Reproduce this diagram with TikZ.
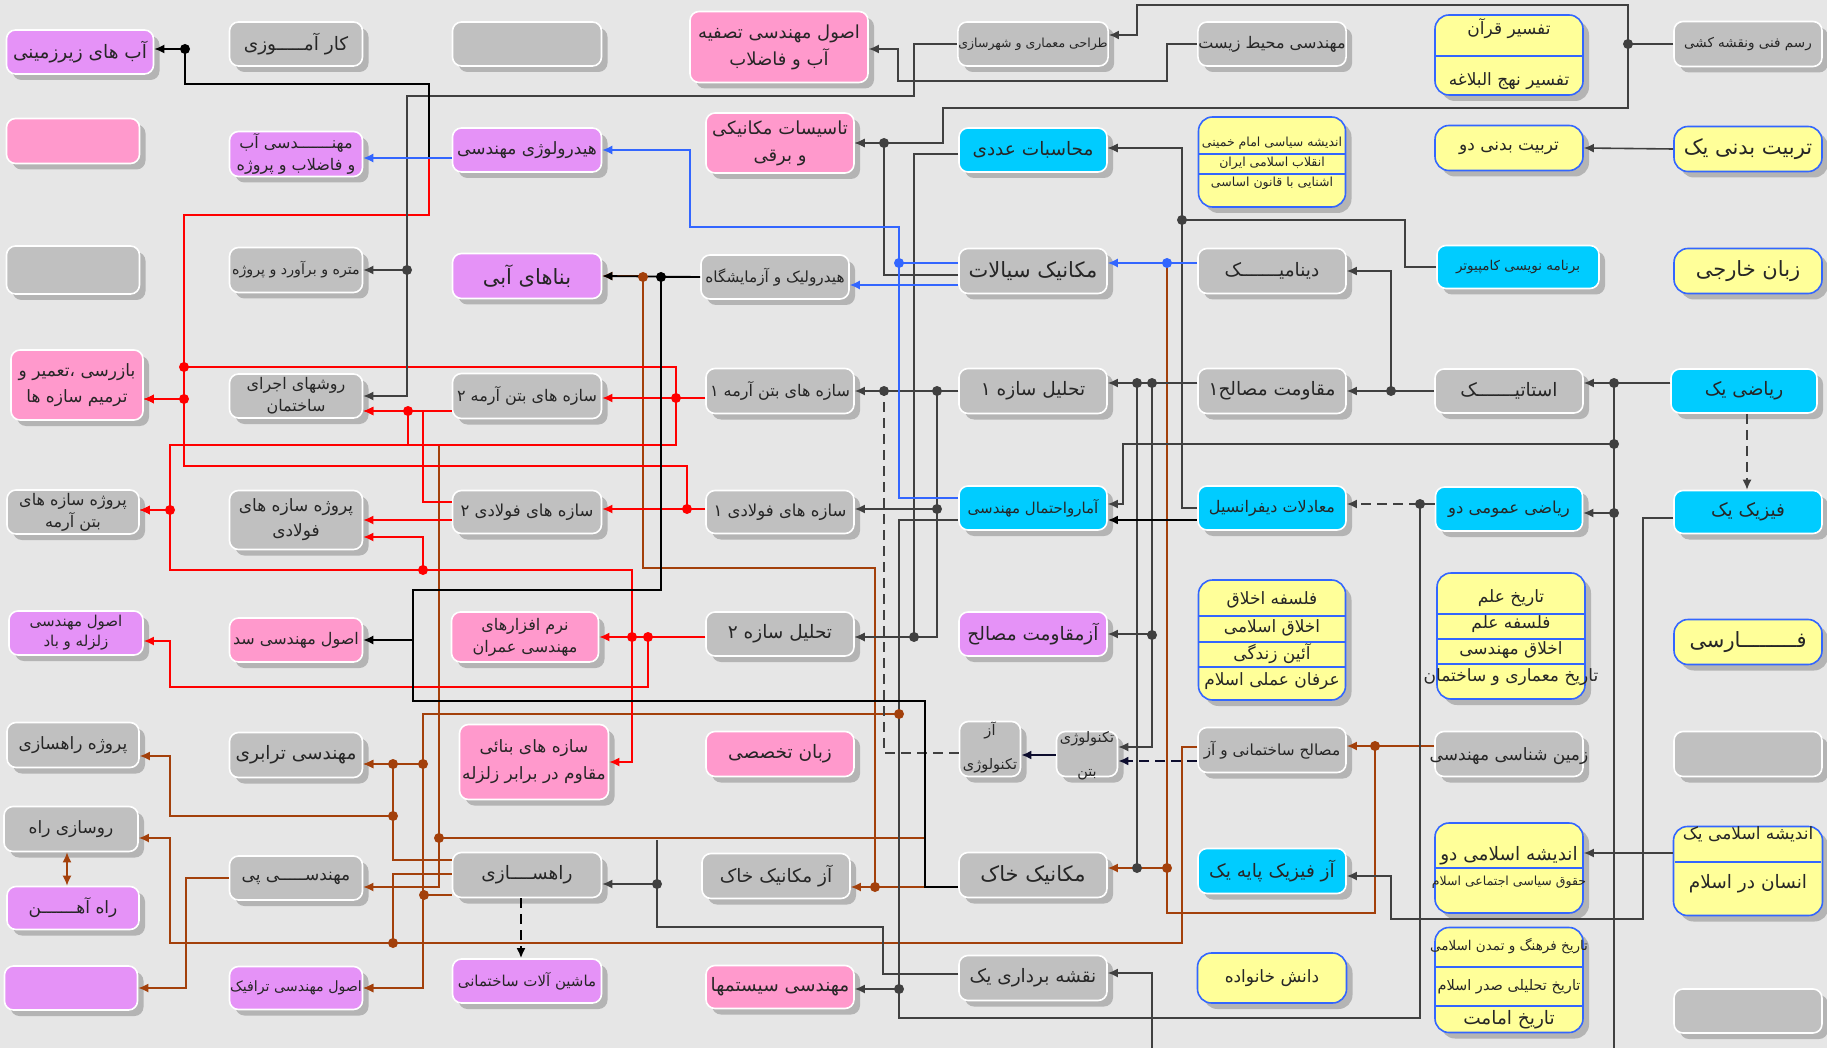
\documentclass[tikz,border=0pt]{standalone}
\usepackage{fontspec}
\usepackage{tikz}
\usetikzlibrary{shapes,arrows,arrows.meta,shadows}
\usepackage{xcolor}
\newfontfamily\arabicfont[Script=Arabic]{DejaVu Sans}
\TeXXeTstate=1
\newcommand{\fatxt}[1]{\beginR #1\endR}
\newcommand{\fbig}{\arabicfont\fontsize{21}{25}\selectfont}
\newcommand{\flrg}{\arabicfont\fontsize{18.5}{23}\selectfont}
\newcommand{\fmid}{\arabicfont\fontsize{17}{22}\selectfont}
\newcommand{\fnrm}{\arabicfont\fontsize{16.5}{22}\selectfont}
\newcommand{\ftwo}{\arabicfont\fontsize{16}{22}\selectfont}
\newcommand{\fsml}{\arabicfont\fontsize{15}{20}\selectfont}
\newcommand{\ftny}{\arabicfont\fontsize{12.5}{16}\selectfont}
\definecolor{bgc}{HTML}{E6E6E6}
\definecolor{boxgray}{HTML}{C0C0C0}
\definecolor{boxcyan}{HTML}{00CCFF}
\definecolor{boxpurple}{HTML}{E592F7}
\definecolor{boxpink}{HTML}{FF99CC}
\definecolor{boxyellow}{HTML}{FFFF99}
\definecolor{ybord}{HTML}{3366FF}
\definecolor{shd}{HTML}{B4B4B4}
\definecolor{lnk}{HTML}{404040}
\definecolor{brn}{HTML}{A3400B}
\definecolor{navyl}{HTML}{0D0D2E}

\begin{document}
\begin{tikzpicture}[x=1pt,y=-1pt,>={Latex[length=10pt,width=9pt]}]
      \tikzstyle{course} = [rectangle, rounded corners=9pt, draw=white, line width=1.6pt, minimum width=148pt, minimum height=45pt, inner sep=0.5pt, align=center, text=black!85, font=\fmid, drop shadow={shadow xshift=6pt, shadow yshift=-6pt, fill=shd, opacity=1}]
      \tikzstyle{gcourse} = [course, fill=boxgray]
      \tikzstyle{ccourse} = [course, fill=boxcyan]
      \tikzstyle{pcourse} = [course, fill=boxpurple]
      \tikzstyle{kcourse} = [course, fill=boxpink]
      \tikzstyle{ycourse} = [course, fill=boxyellow, draw=ybord, rounded corners=14pt]
      \tikzstyle{txt} = [inner sep=0pt, align=center, text=black!85, font=\fmid]
      \tikzstyle{gline} = [draw=lnk, line width=1.6pt]
      \tikzstyle{rline} = [draw=red, line width=1.6pt]
      \tikzstyle{bline} = [draw=ybord, line width=1.4pt]
      \tikzstyle{wline} = [draw=brn, line width=1.6pt]
      \tikzstyle{dsh} = [dash pattern=on 10pt off 6pt]

      \useasboundingbox (0,0) rectangle (1827,1048);
      \fill[bgc] (0,0) rectangle (1827,1048);

      \node[pcourse, font=\flrg, minimum width=147pt, minimum height=44pt] (gwater) at (80,52) {\fatxt{آب های زیرزمینی}};
      \node[kcourse, minimum width=133pt] (emptyA) at (73,141) {};
      \node[gcourse, minimum width=133pt, minimum height=48pt] (emptyB) at (73,270) {};
      \node[kcourse, minimum width=132pt, minimum height=70pt, font=\arabicfont\fontsize{17}{26}\selectfont] (inspect) at (77,385) {\fatxt{بازرسی ،تعمیر و}\\\fatxt{ترمیم سازه ها}};
      \node[gcourse, minimum width=132pt, minimum height=44pt, font=\ftwo] (rcproj) at (73,512) {\fatxt{پروژه سازه های}\\\fatxt{بتن آرمه}};
      \node[pcourse, minimum width=134pt, minimum height=44pt, font=\fsml] (quake) at (76,633) {\fatxt{اصول مهندسی}\\\fatxt{زلزله و باد}};
      \node[gcourse, minimum width=132pt] (roadproj) at (73,745) {\fatxt{پروژه راهسازی}};
      \node[gcourse, minimum width=134pt] (pave) at (71,829) {\fatxt{روسازی راه}};
      \node[pcourse, minimum width=132pt, minimum height=43pt] (rail) at (73,908) {\fatxt{راه آهـــــــن}};
      \node[pcourse, minimum width=133pt, minimum height=44pt] (emptyC) at (71,988) {};

      \node[gcourse, minimum width=133pt, minimum height=44pt, font=\flrg] (intern) at (296,44) {\fatxt{کار آمـــــوزی}};
      \node[pcourse, minimum width=133pt, font=\ftwo] (waterproj) at (296,154) {\fatxt{مهنـــــــدسی آب}\\\fatxt{و فاضلاب و پروژه}};
      \node[gcourse, minimum width=133pt, font=\arabicfont\fontsize{14.2}{18}\selectfont] (qty) at (296,270) {\fatxt{متره و برآورد و پروژه}};
      \node[gcourse, minimum width=133pt, minimum height=44pt, font=\ftwo] (constr) at (296,396) {\fatxt{روشهای اجرای}\\\fatxt{ساختمان}};
      \node[gcourse, minimum width=133pt, minimum height=59pt, font=\arabicfont\fontsize{17}{25}\selectfont] (steelproj) at (296,520) {\fatxt{پروژه سازه های}\\\fatxt{فولادی}};
      \node[kcourse, minimum width=133pt, minimum height=44pt, font=\ftwo] (dam) at (296,640) {\fatxt{اصول مهندسی سد}};
      \node[gcourse, minimum width=133pt, font=\flrg] (transp) at (296,755) {\fatxt{مهندسی ترابری}};
      \node[gcourse, minimum width=133pt, minimum height=44pt] (found) at (296,878) {\fatxt{مهندســـــی پی}};
      \node[pcourse, minimum width=133pt, minimum height=43pt, font=\arabicfont\fontsize{14.2}{18}\selectfont] (traffic) at (296,988) {\fatxt{اصول مهندسی ترافیک}};

      \node[gcourse, minimum width=149pt, minimum height=44pt] (emptyD) at (527,44) {};
      \node[pcourse, minimum width=149pt, minimum height=44pt] (hydro) at (527,150) {\fatxt{هیدرولوژی مهندسی}};
      \node[pcourse, minimum width=149pt, font=\fbig] (hstruct) at (527,276) {\fatxt{بناهای آبی}};
      \node[gcourse, minimum width=149pt, font=\ftwo] (rc2) at (527,396) {\fatxt{سازه های بتن آرمه ۲}};
      \node[gcourse, minimum width=149pt, minimum height=43pt, font=\fnrm] (steel2) at (527,512) {\fatxt{سازه های فولادی ۲}};
      \node[kcourse, minimum width=147pt, minimum height=50pt, font=\ftwo] (soft) at (525,637) {\fatxt{نرم افزارهای}\\\fatxt{مهندسی عمران}};
      \node[kcourse, minimum width=149pt, minimum height=75pt, font=\arabicfont\fontsize{17}{27}\selectfont] (masonry) at (534,762) {\fatxt{سازه های بنائی}\\\fatxt{مقاوم در برابر زلزله}};
      \node[gcourse, minimum width=149pt, font=\flrg] (road) at (527,875) {\fatxt{راهســــازی}};
      \node[pcourse, minimum width=149pt, minimum height=44pt, font=\fsml] (machine) at (527,981) {\fatxt{ماشین آلات ساختمانی}};

      \node[kcourse, minimum width=178pt, minimum height=71pt, font=\arabicfont\fontsize{18}{27}\selectfont] (treat) at (779,47) {\fatxt{اصول مهندسی تصفیه}\\\fatxt{آب و فاضلاب}};
      \node[kcourse, minimum height=60pt, font=\arabicfont\fontsize{18}{27}\selectfont] (mech) at (780,143) {\fatxt{تاسیسات مکانیکی}\\\fatxt{و برقی}};
      \node[gcourse, minimum height=44pt, font=\arabicfont\fontsize{15.3}{20}\selectfont] (hlab) at (775,277) {\fatxt{هیدرولیک و آزمایشگاه}};
      \node[gcourse, font=\ftwo] (rc1) at (780,391) {\fatxt{سازه های بتن آرمه ۱}};
      \node[gcourse, minimum height=43pt, font=\fnrm] (steel1) at (780,512) {\fatxt{سازه های فولادی ۱}};
      \node[gcourse, minimum height=44pt, font=\flrg] (anal2) at (780,634) {\fatxt{تحلیل سازه ۲}};
      \node[kcourse, font=\flrg] (esp) at (780,754) {\fatxt{زبان تخصصی}};
      \node[gcourse, font=\flrg] (soillab) at (776,876) {\fatxt{آز مکانیک خاک}};
      \node[kcourse, minimum height=43pt, font=\flrg] (systems) at (780,987) {\fatxt{مهندسی سیستمها}};

      \node[gcourse, minimum height=44pt, font=\ftny] (arch) at (1033,44) {\fatxt{طراحی معماری و شهرسازی}};
      \node[ccourse, minimum height=44pt, font=\flrg] (numer) at (1033,150) {\fatxt{محاسبات عددی}};
      \node[gcourse, font=\fbig] (fluid) at (1033,271) {\fatxt{مکانیک سیالات}};
      \node[gcourse, font=\flrg] (anal1) at (1033,391) {\fatxt{تحلیل سازه ۱}};
      \node[ccourse, minimum height=44pt, font=\fsml] (stat) at (1033,508) {\fatxt{آمارواحتمال مهندسی}};
      \node[pcourse, minimum height=44pt, font=\flrg] (matlab) at (1033,634) {\fatxt{آزمقاومت مصالح}};
      \node[gcourse, minimum width=61pt, minimum height=55pt] (techlab) at (990,749) {};
      \node[gcourse, minimum width=61pt, minimum height=45pt] (concrete) at (1087,754) {};
      \node[txt, font=\arabicfont\fontsize{14.5}{34}\selectfont] (techlabT) at (990,747) {\fatxt{آز}\\\fatxt{تکنولوژی}};
      \node[txt, font=\arabicfont\fontsize{14.5}{34}\selectfont] (concreteT) at (1087,756) {\fatxt{تکنولوژی}\\\fatxt{بتن}};
      \node[gcourse, font=\fbig] (soil) at (1033,875) {\fatxt{مکانیک خاک}};
      \node[gcourse, font=\flrg] (survey) at (1033,978) {\fatxt{نقشه برداری یک}};

      \node[gcourse, minimum height=44pt, font=\ftwo] (env) at (1272,44) {\fatxt{مهندسی محیط زیست}};
      \node[ycourse, minimum width=147pt, minimum height=90pt] (yel1) at (1272,162) {};
      \node[gcourse, font=\flrg] (dyn) at (1272,271) {\fatxt{دینامیـــــــک}};
      \node[gcourse, font=\flrg] (mat1) at (1272,391) {\fatxt{مقاومت مصالح۱}};
      \node[ccourse, minimum height=44pt, font=\ftwo] (diff) at (1272,508) {\fatxt{معادلات دیفرانسیل}};
      \node[ycourse, minimum width=147pt, minimum height=120pt] (yel2) at (1272,640) {};
      \node[gcourse, font=\arabicfont\fontsize{15.3}{20}\selectfont] (matlab2) at (1272,750) {\fatxt{مصالح ساختمانی و آز}};
      \node[ccourse, font=\flrg] (physlab) at (1272,871) {\fatxt{آز فیزیک پایه یک}};
      \node[ycourse, minimum width=149pt, minimum height=50pt] (family) at (1272,978) {\fatxt{دانش خانواده}};

      \node[ycourse, minimum height=80pt] (tafsir) at (1509,55) {};
      \node[ycourse] (pe2) at (1509,148) {\fatxt{تربیت بدنی دو}};
      \node[ccourse, minimum width=162pt, minimum height=43pt, font=\arabicfont\fontsize{13.5}{16}\selectfont] (prog) at (1518,267) {\fatxt{برنامه نویسی کامپیوتر}};
      \node[gcourse, minimum height=44pt, font=\flrg] (static) at (1509,391) {\fatxt{استاتیـــــــک}};
      \node[ccourse, minimum width=147pt, minimum height=44pt, font=\fnrm] (math2) at (1509,509) {\fatxt{ریاضی عمومی دو}};
      \node[ycourse, minimum height=126pt] (yel3) at (1511,636) {};
      \node[gcourse] (geo) at (1509,754) {};
      \node[ycourse, minimum height=90pt] (yel4) at (1509,868) {};
      \node[ycourse, minimum height=105pt] (yel5) at (1509,980) {};

      \node[gcourse, font=\arabicfont\fontsize{13.5}{16}\selectfont] (draft) at (1748,44) {\fatxt{رسم فنی ونقشه کشی}};
      \node[ycourse, font=\fbig] (pe1) at (1748,149) {\fatxt{تربیت بدنی یک}};
      \node[ycourse, font=\fbig] (lang) at (1748,271) {\fatxt{زبان خارجی}};
      \node[ccourse, minimum width=146pt, minimum height=44pt, font=\flrg] (math1) at (1744,391) {\fatxt{ریاضی یک}};
      \node[ccourse, minimum height=43pt, font=\flrg] (phys1) at (1748,512) {\fatxt{فیزیک یک}};
      \node[ycourse, font=\fbig] (farsi) at (1748,642) {\fatxt{فـــــــــارسی}};
      \node[gcourse] (emptyE) at (1748,754) {};
      \node[ycourse, minimum width=149pt, minimum height=89pt] (yel6) at (1748,871) {};
      \node[gcourse, minimum height=44pt] (emptyF) at (1748,1011) {};

      \draw[ybord, line width=1.4pt] (1199,154) -- (1345,154) (1199,174) -- (1345,174);
      \draw[ybord, line width=1.4pt] (1199,616) -- (1345,616) (1199,642) -- (1345,642) (1199,667) -- (1345,667);
      \draw[ybord, line width=1.4pt] (1436,56) -- (1582,56);
      \draw[ybord, line width=1.4pt] (1438,614) -- (1584,614) (1438,639) -- (1584,639) (1438,664) -- (1584,664);
      \draw[ybord, line width=1.4pt] (1436,868) -- (1582,868);
      \draw[ybord, line width=1.4pt] (1436,967) -- (1582,967) (1436,1006) -- (1582,1006);
      \draw[ybord, line width=1.4pt] (1675,862) -- (1821,862);

      \node[txt, font=\ftny] (yel1a) at (1272,143) {\fatxt{اندیشه سیاسی امام خمینی}};
      \node[txt, font=\ftny] (yel1b) at (1272,163) {\fatxt{انقلاب اسلامی ایران}};
      \node[txt, font=\ftny] (yel1c) at (1272,183) {\fatxt{اشنایی با قانون اساسی}};
      \node[txt] (yel2a) at (1272,600) {\fatxt{فلسفه اخلاق}};
      \node[txt] (yel2b) at (1272,628) {\fatxt{اخلاق اسلامی}};
      \node[txt] (yel2c) at (1272,654) {\fatxt{آئین زندگی}};
      \node[txt] (yel2d) at (1272,681) {\fatxt{عرفان عملی اسلام}};
      \node[txt] (tafsira) at (1509,29) {\fatxt{تفسیر قرآن}};
      \node[txt] (tafsirb) at (1509,81) {\fatxt{تفسیر نهج البلاغه}};
      \node[txt] (yel3a) at (1511,598) {\fatxt{تاریخ علم}};
      \node[txt] (yel3b) at (1511,624) {\fatxt{فلسفه علم}};
      \node[txt] (yel3c) at (1511,650) {\fatxt{اخلاق مهندسی}};
      \node[txt] (yel3d) at (1511,677) {\fatxt{تاریخ معماری و ساختمان}};
      \node[txt, font=\fmid] (geoT) at (1509,756) {\fatxt{زمین شناسی مهندسی}};
      \node[txt, font=\flrg] (yel4a) at (1509,856) {\fatxt{اندیشه اسلامی دو}};
      \node[txt, font=\ftny] (yel4b) at (1509,882) {\fatxt{حقوق سیاسی اجتماعی اسلام}};
      \node[txt, font=\arabicfont\fontsize{13.5}{16}\selectfont] (yel5a) at (1509,946) {\fatxt{تاریخ فرهنگ و تمدن اسلامی}};
      \node[txt, font=\arabicfont\fontsize{14.5}{18}\selectfont] (yel5b) at (1509,987) {\fatxt{تاریخ تحلیلی صدر اسلام}};
      \node[txt, font=\flrg] (yel5c) at (1509,1020) {\fatxt{تاریخ امامت}};
      \node[txt, font=\fmid] (yel6a) at (1748,834) {\fatxt{اندیشه اسلامی یک}};
      \node[txt, font=\flrg] (yel6b) at (1748,884) {\fatxt{انسان در اسلام}};

      \coordinate (bsrc) at (899,714);
      \coordinate (bjoin) at (925,838);
      \coordinate (redtop) at (439,445);
      \coordinate (bottomA) at (1614,1048);
      \coordinate (bottomB) at (1152,1048);

      \draw[wline,->] ([yshift=-12pt]soil.west) -- ([yshift=-11pt]soillab.east);
      \draw[wline,->] ([yshift=-12pt]soil.west) -- (875,887) |- (643,568) |- (hstruct.east);
      \draw[wline,->] (bsrc) -| (423,764) |- ([yshift=-9pt]transp.east);
      \draw[wline,->] (bsrc) -| (423,988) -- (traffic.east);
      \draw[wline,->] ([yshift=-20pt]road.west) -- (423,895) |- (traffic.east);
      \draw[wline,->] ([yshift=15pt]road.west) -- (393,860) |- ([yshift=-9pt]transp.east);
      \draw[wline,->] ([yshift=15pt]road.west) -- (393,860) |- (170,816) |- ([yshift=-11pt]roadproj.east);
      \draw[wline,->] ([yshift=3pt]matlab2.west) -- (1182,747) |- (170,943) |- ([yshift=-9pt]pave.east);
      \draw[wline] ([yshift=1pt]road.west) -| (393,943);
      \draw[wline,->] (bjoin) -- (439,838) |- ([yshift=-9pt]found.east);
      \draw[wline] (redtop) -- (439,838);
      \draw[wline,->] (found.west) -- (186,878) |- (emptyC.east);
      \draw[wline,<->] ([xshift=-4pt]pave.south) -- ([xshift=-6pt]rail.north);
      \draw[wline,->] ([yshift=8pt]geo.west) -- ([yshift=4pt]matlab2.east);
      \draw[wline,->] ([yshift=8pt]geo.west) -- (1375,746) |- (1167,913) |- ([yshift=7pt]soil.east);
      \draw[wline] ([yshift=8pt]geo.west) -- (1375,746) |- (1167,913) -- (1167,263);

      \draw[rline,->] ([yshift=-8pt]hydro.west) -- (429,158) |- (184,215) |- ([yshift=-14pt]inspect.east);
      \draw[rline,->] ([yshift=-7pt]rc1.west) -- ([yshift=-2pt]rc2.east);
      \draw[rline,->] ([yshift=-7pt]rc1.west) -- (676,398) |- (184,367) |- ([yshift=-14pt]inspect.east);
      \draw[rline,->] ([yshift=-7pt]rc1.west) -- (676,398) |- (170,445) |- ([yshift=2pt]rcproj.east);
      \draw[rline,->] ([yshift=-15pt]rc2.west) -- ([yshift=-15pt]constr.east);
      \draw[rline,->] ([yshift=-15pt]rc2.west) -- (408,411) |- (170,445) |- ([yshift=2pt]rcproj.east);
      \draw[rline,->] ([yshift=10pt]steel2.west) -- (423,502) |- ([yshift=-15pt]constr.east);
      \draw[rline,->] ([yshift=-8pt]steel2.west) -- (steelproj.east);
      \draw[rline,->] ([yshift=3pt]steel1.west) -- ([yshift=3pt]steel2.east);
      \draw[rline,->] ([yshift=3pt]steel1.west) -- (687,509) |- (184,466) |- ([yshift=-14pt]inspect.east);
      \draw[rline,->] ([yshift=-3pt]anal2.west) -- (soft.east);
      \draw[rline,->] ([yshift=-3pt]anal2.west) -- (648,637) |- (170,687) |- ([yshift=-8pt]quake.east);
      \draw[rline,->] ([yshift=-3pt]anal2.west) -- (632,637) |- (masonry.east);
      \draw[rline,->] ([yshift=-3pt]anal2.west) -- (632,637) |- (423,570) |- ([yshift=-17pt]steelproj.east);
      \draw[rline,->] ([yshift=-3pt]anal2.west) -- (632,637) |- (170,570) |- ([yshift=2pt]rcproj.east);

      \draw[gline,->] (draft.west) -- (1628,44) |- (1137,5) |- ([yshift=9pt]arch.east);
      \draw[gline,->] (draft.west) -- (1628,44) |- (943,108) |- (mech.east);
      \draw[gline,->] ([yshift=-4pt]fluid.west) -| (884,143) -- (mech.east);
      \draw[gline,->] (arch.west) -- (914,44) |- (407,96) |- (qty.east);
      \draw[gline,->] (arch.west) -- (914,44) |- (407,96) |- (constr.east);
      \draw[gline,->] (env.west) -- (1167,44) |- (898,81) |- ([yshift=-2pt]treat.east);
      \draw[black, line width=1.6pt,->] ([yshift=-8pt]hydro.west) -- (429,158) |- (185,84) |- ([yshift=3pt]gwater.east);
      \draw[gline,->] ([yshift=-4pt]numer.west) -- (914,154) |- ([yshift=-3pt]anal2.east);
      \draw[gline,->] (anal1.west) -- (rc1.east);
      \draw[gline,->] (anal1.west) -- (937,391) |- ([yshift=3pt]steel1.east);
      \draw[gline,->] (anal1.west) -- (937,391) |- ([yshift=-3pt]anal2.east);
      \draw[gline,->] ([yshift=8pt]mat1.west) -- ([yshift=8pt]anal1.east);
      \draw[gline,->] ([yshift=8pt]mat1.west) -- (1152,383) |- (matlab.east);
      \draw[gline,->] ([yshift=8pt]mat1.west) -- (1152,383) |- ([yshift=7pt]concrete.east);
      \draw[gline] ([yshift=8pt]mat1.west) -- (1137,383) -- (1137,868);
      \draw[gline,->] (diff.west) -- (1182,508) |- ([yshift=2pt]numer.east);
      \draw[gline,->] (prog.west) -- (1405,267) |- (1182,220) |- ([yshift=2pt]numer.east);
      \draw[black, line width=2.4pt, ->] ([yshift=-12pt]diff.west) -- ([yshift=-12pt]stat.east);
      \draw[gline,->] ([yshift=8pt]math1.west) -- ([yshift=8pt]static.east);
      \draw[gline,->] ([yshift=8pt]math1.west) -- (1614,383) |- ([yshift=-4pt]math2.east);
      \draw[gline] ([yshift=8pt]math1.west) -- (1614,383) -- (bottomA);
      \draw[gline,->] ([yshift=8pt]math1.west) -- (1614,383) |- (1123,444) |- ([yshift=4pt]stat.east);
      \draw[gline,->] (static.west) -- (mat1.east);
      \draw[gline,->] (static.west) -- (1391,391) |- (dyn.east);
      \draw[gline,dsh,->] ([yshift=5pt]math2.west) -- ([yshift=4pt]diff.east);
      \draw[gline] ([yshift=5pt]math2.west) -- (1420,504) |- (899,1018) -- (899,989);
      \draw[gline,->] ([yshift=-12pt]stat.west) -- (899,520) |- ([yshift=-2pt]systems.east);
      \draw[gline,->] ([yshift=-6pt]phys1.west) -- (1643,518) |- (1391,919) |- ([yshift=-5pt]physlab.east);
      \draw[gline,->] ([yshift=18pt]yel6.west) -- ([yshift=15pt]yel4.east);
      \draw[gline,->] (pe1.west) -- (pe2.east);
      \draw[gline,->] ([yshift=4pt]survey.west) -- (883,974) |- (657,927) |- ([yshift=-9pt]road.east);
      \draw[gline] ([yshift=4pt]survey.west) -- (883,974) |- (657,927) -- (657,840);
      \draw[gline,->] (bottomB) |- ([yshift=5pt]survey.east);
      \draw[gline,dsh] ([yshift=-4pt]techlab.west) -| (884,391);
      \draw[navyl, line width=2.4pt, ->] ([yshift=-1pt]concrete.west) -- ([yshift=-6pt]techlab.east);
      \draw[navyl, line width=2.8pt, dsh, ->] ([yshift=-11pt]matlab2.west) -- ([yshift=-7pt]concrete.east);
      \draw[black, line width=2pt, dsh, ->] ([xshift=-6pt]road.south) -- ([xshift=-6pt]machine.north);
      \draw[gline, dsh, ->] ([xshift=3pt]math1.south) -- ([xshift=-1pt]phys1.north);
      \draw[black, line width=1.8pt, ->] (hlab.west) -- (hstruct.east);
      \draw[black, line width=1.4pt, ->] (hlab.west) -- (661,277) |- (413,590) |- (dam.east);
      \draw[black, line width=1.4pt] (hlab.west) -- (661,277) |- (413,590) |- (925,701) |- ([yshift=-12pt]soil.west);

      \draw[bline,->] ([yshift=10pt]stat.west) -- (899,498) |- (690,227) |- (hydro.east);
      \draw[bline] ([yshift=8pt]fluid.west) -- (899,263);
      \draw[bline,->] ([yshift=-14pt]fluid.west) -- ([yshift=-8pt]hlab.east);
      \draw[bline,->] ([yshift=8pt]dyn.west) -- ([yshift=8pt]fluid.east);
      \draw[bline,->] ([yshift=-8pt]hydro.west) -- ([yshift=-4pt]waterproj.east);

      \foreach \p in {(1628,44),(884,143),(407,270),(914,637),(937,391),(884,391),(937,509),(1152,383),(1137,383),(1152,635),(1137,868),(1182,220),(1614,383),(1614,444),(1614,513),(1391,391),(1420,504),(899,989),(657,884)}
        \fill[lnk] \p circle (5pt);
      \fill[black] (185,49) circle (5pt);
      \fill[black] (661,277) circle (5pt);
      \foreach \p in {(676,398),(184,367),(184,399),(170,510),(408,411),(687,509),(423,570),(648,637),(632,637)}
        \fill[red] \p circle (5pt);
      \foreach \p in {(643,277),(875,887),(899,714),(423,764),(393,764),(393,816),(424,895),(393,943),(439,838),(1375,746),(1167,868)}
        \fill[brn] \p circle (5pt);
      \fill[ybord] (899,263) circle (5pt);
      \fill[ybord] (1167,263) circle (5pt);
    \end{tikzpicture}
\end{document}
